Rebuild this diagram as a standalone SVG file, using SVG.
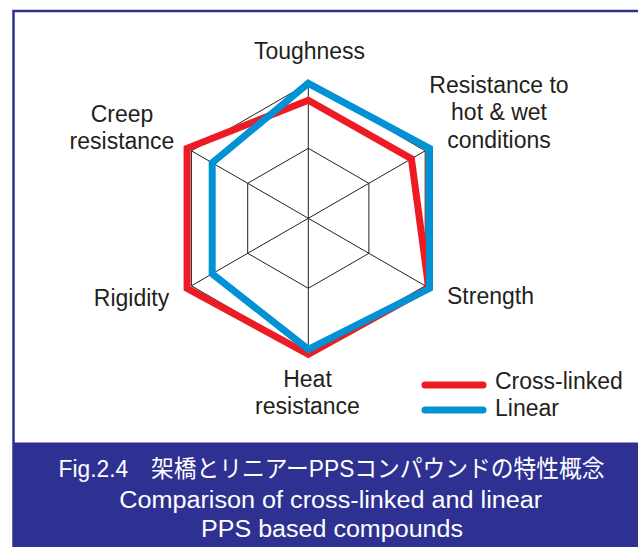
<svg xmlns="http://www.w3.org/2000/svg" width="638" height="547" viewBox="0 0 638 547">
<style>
  .lbl { font-family: "Liberation Sans", Arial, sans-serif; font-size: 23px; fill: #231F20; text-anchor: middle; }
  .leg { font-family: "Liberation Sans", Arial, sans-serif; font-size: 23px; fill: #231F20; }
  .cap { font-family: "Liberation Sans", Arial, "Noto Sans CJK JP", sans-serif; font-size: 23.5px; fill: #FFFFFF; text-anchor: middle; }
  .grid { fill: none; stroke: #231F20; stroke-width: 1; }
  .red { fill: none; stroke: #ED1C24; stroke-width: 7; stroke-linejoin: miter; }
  .blue { fill: none; stroke: #0092D4; stroke-width: 7; stroke-linejoin: miter; }
</style>
<rect x="0" y="0" width="638" height="547" fill="#FFFFFF"/>
<rect x="13.5" y="11" width="640" height="545" fill="#FFFFFF" stroke="#2E3192" stroke-width="2.5"/>
<g id="grid">
  <polygon class="grid" points="308.3,83.3 425.2,150.8 425.2,285.8 308.3,353.3 191.4,285.8 191.4,150.8"/>
  <polygon class="grid" points="308.3,148.3 368.9,183.3 368.9,253.3 308.3,288.3 247.7,253.3 247.7,183.3"/>
  <line class="grid" x1="308.3" y1="83.3" x2="308.3" y2="353.3"/>
  <line class="grid" x1="425.2" y1="150.8" x2="191.4" y2="285.8"/>
  <line class="grid" x1="425.2" y1="285.8" x2="191.4" y2="150.8"/>
</g>
<g id="series">
  <polygon id="cross-linked" class="red" points="308.3,100.3 411.4,158.8 428.7,287.8 308.3,354.3 187.1,288.3 187.1,148.3"/>
  <polygon id="linear" class="blue" points="308.3,83.3 429.5,148.3 429.5,288.3 308.3,349.3 212.2,273.8 212.2,162.8"/>
</g>
<g id="labels">
  <text class="lbl" x="309.5" y="59">Toughness</text>
  <text class="lbl" x="122" y="122">Creep</text>
  <text class="lbl" x="122" y="148.5">resistance</text>
  <text class="lbl" x="499" y="92.5">Resistance to</text>
  <text class="lbl" x="499" y="120">hot &amp; wet</text>
  <text class="lbl" x="499" y="147.5">conditions</text>
  <text class="lbl" x="131.5" y="305.5">Rigidity</text>
  <text class="lbl" x="490.5" y="303.5">Strength</text>
  <text class="lbl" x="307.5" y="386.5">Heat</text>
  <text class="lbl" x="307.5" y="414">resistance</text>
</g>
<g id="legend">
  <line x1="425" y1="385" x2="483" y2="385" stroke="#ED1C24" stroke-width="7" stroke-linecap="round"/>
  <line x1="425" y1="410" x2="483" y2="410" stroke="#0092D4" stroke-width="7" stroke-linecap="round"/>
  <text class="leg" x="495" y="389">Cross-linked</text>
  <text class="leg" x="495" y="415.5">Linear</text>
</g>
<g id="caption">
  <rect x="13.5" y="442.5" width="640" height="110" fill="#2E3192"/>
  <text class="cap" x="331.6" y="476.5" textLength="546" lengthAdjust="spacingAndGlyphs">Fig.2.4　架橋とリニアーPPSコンパウンドの特性概念</text>
  <text class="cap" x="330.7" y="508" textLength="423" lengthAdjust="spacingAndGlyphs">Comparison of cross-linked and linear</text>
  <text class="cap" x="332" y="537" textLength="262" lengthAdjust="spacingAndGlyphs">PPS based compounds</text>
</g>
</svg>
